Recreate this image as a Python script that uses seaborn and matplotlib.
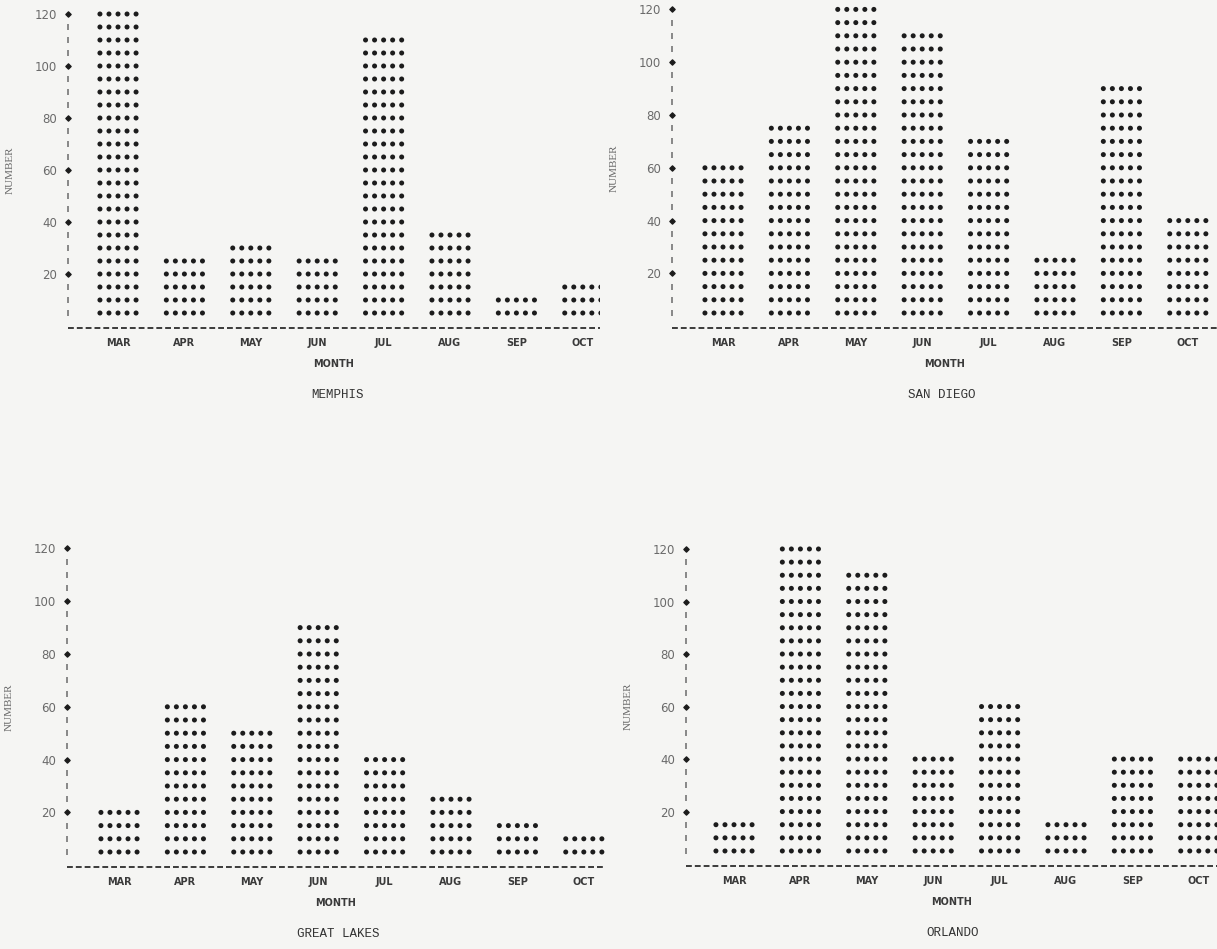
import numpy as np
import pandas as pd
import matplotlib
matplotlib.use("Agg")
import matplotlib.pyplot as plt
import seaborn as sns

# Monthly counts (one row of dots = 5)
months = ['MAR', 'APR', 'MAY', 'JUN', 'JUL', 'AUG', 'SEP', 'OCT']
memphis = [120, 25, 30, 25, 110, 35, 10, 15]
san_diego = [60, 75, 120, 110, 70, 25, 90, 40]
great_lakes = [20, 60, 50, 90, 40, 25, 15, 10]
orlando = [15, 120, 110, 40, 60, 15, 40, 40]
y_ticks = [20, 40, 60, 80, 100, 120]

sns.set_style("white")
plt.rcParams['font.family'] = ['DejaVu Sans']

W, H = 1217, 949
BG = '#f5f5f3'
INK = '#1c1c1c'
GREY = '#6a6a6a'

fig = plt.figure(figsize=(W / 100, H / 100), dpi=100, facecolor=BG)

# panel layout in pixels: title, values, y-axis x, MAR x, right x, y(0) px, px per unit
panels = [
    ('MEMPHIS', memphis, 68, 118, 600, 326.0, 2.60),
    ('SAN DIEGO', san_diego, 672, 723, 1217, 326.2, 2.64),
    ('GREAT LAKES', great_lakes, 67, 119, 605, 865.2, 2.64),
    ('ORLANDO', orlando, 686, 734, 1217, 864.1, 2.626),
]
step_px = 66.4


def dot_frame(values):
    # each value becomes rows of 5 dots, one row per 5 units
    rows = []
    for i, v in enumerate(values):
        for k in range(1, v // 5 + 1):
            for j in range(5):
                rows.append({'x': i + (j - 2) * 0.136, 'y': 5 * k})
    return pd.DataFrame(rows)


for title, vals, lx, mx, rx, y0, ppu in panels:
    ylo, yhi = -3, 123
    bot_px = y0 - ylo * ppu
    top_px = y0 - yhi * ppu
    ax = fig.add_axes([lx / W, 1 - bot_px / H, (rx - lx) / W, (bot_px - top_px) / H])
    ax.set_facecolor('none')
    ax.set_xlim((lx - mx) / step_px, (rx - mx) / step_px)
    ax.set_ylim(ylo, yhi)
    for s in ax.spines.values():
        s.set_visible(False)

    df = dot_frame(vals)
    sns.scatterplot(data=df, x='x', y='y', ax=ax, s=13, color=INK,
                    edgecolor='none', legend=False)

    # printer-style axes: '!' column with '+' at labelled values, dashed baseline
    x_ax = ax.get_xlim()[0]
    minor = [v for v in range(5, 121, 5) if v not in y_ticks]
    ax.scatter([x_ax] * len(minor), minor, marker='|', s=16, color=GREY,
               linewidths=1.1, clip_on=False)
    ax.scatter([x_ax] * len(y_ticks), y_ticks, marker='D', s=7, color=INK,
               clip_on=False)
    ax.axhline(-0.8, color=INK, lw=1.2, ls=(0, (3.5, 1.8)))

    ax.set_xticks(range(len(months)))
    ax.set_xticklabels(months, fontsize=7, fontweight='bold', color='#3a3a3a')
    ax.set_yticks(y_ticks)
    ax.set_yticklabels([str(t) for t in y_ticks], fontsize=8.5, color=GREY)
    ax.tick_params(axis='x', length=0, pad=3)
    ax.tick_params(axis='y', length=0, pad=8)
    ax.set_xlabel('MONTH', fontsize=7, fontweight='bold', color='#3a3a3a', labelpad=8)
    ax.set_ylabel('NUMBER', fontsize=8, color=GREY, family='Liberation Serif',
                  labelpad=14)
    # station name below the MONTH label
    ax.text(3.3, -69 / ppu, title, ha='center', va='center', fontsize=9,
            family='Liberation Mono', color='#333333', clip_on=False)

fig.savefig('out.png', dpi=100, facecolor=BG)
